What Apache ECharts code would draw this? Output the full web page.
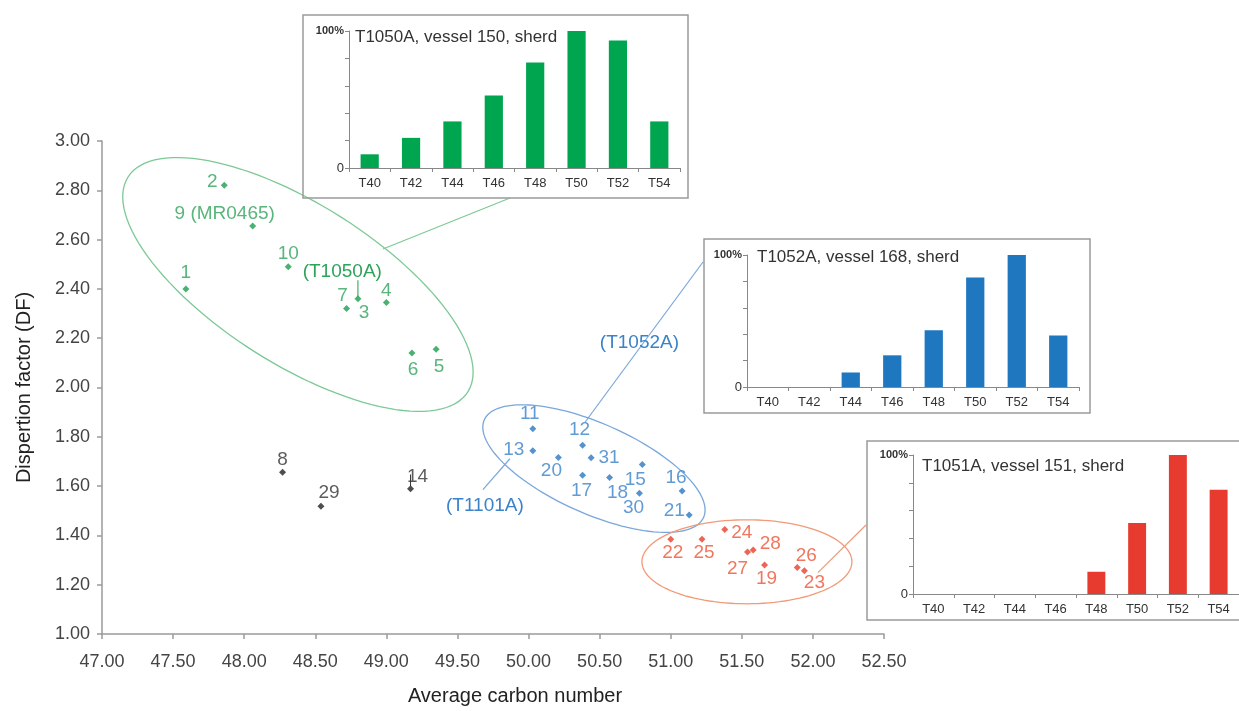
<!DOCTYPE html>
<html><head><meta charset="utf-8">
<script src="https://cdn.jsdelivr.net/npm/echarts@6/dist/echarts.min.js"></script>
<style>html,body{margin:0;padding:0;background:#fff}#c{width:1239px;height:711px}</style>
</head><body><div id="c"></div>
<script>
// ---- main scatter data ----
const greenNames = ['1','2','3','4','5','6','7','9 (MR0465)','10'];
const greenX = [47.59,47.86,48.80,49.00,49.35,49.18,48.72,48.06,48.31];
const greenY = [2.40,2.82,2.36,2.345,2.155,2.14,2.32,2.655,2.49];

const blueNames = ['11','12','13','20','31','17','18','15','30','16','21'];
const blueX = [50.03,50.38,50.03,50.21,50.44,50.38,50.57,50.80,50.78,51.08,51.13];
const blueY = [1.833,1.766,1.743,1.716,1.715,1.644,1.635,1.688,1.571,1.58,1.483];

const redNames = ['22','25','24','28','27','19','26','23'];
const redX = [51.00,51.22,51.38,51.58,51.54,51.66,51.89,51.94];
const redY = [1.384,1.384,1.424,1.341,1.333,1.28,1.27,1.257];

const blackNames = ['8','29','14'];
const blackX = [48.27,48.54,49.17];
const blackY = [1.656,1.518,1.589];

// ---- inset bar data (% of max) ----
const insetCats = ['T40','T42','T44','T46','T48','T50','T52','T54'];
const insetGreen = [10,22,34,53,77,100,93,34];
const insetBlue = [0,0,11,24,43,83,100,39];
const insetRed = [0,0,0,0,16,51,100,75];
const insetTitles = ['T1050A, vessel 150, sherd','T1052A, vessel 168, sherd','T1051A, vessel 151, sherd'];

// ---- label placement (pixel offsets from point) ----
const greenOff = [[0,-16],[-12,-4],[6,14],[0,-12],[3,17],[1,17],[-4,-13],[-28,-12],[0,-13]];
const blueOff = [[-3,-15],[-3,-15],[-19,-1],[-7,13],[18,0],[-1,16],[8,15],[-7,15],[-6,15],[-6,-13],[-15,-4]];
const redOff = [[2,13],[2,13],[17,3],[17,-6],[-10,17],[2,14],[9,-12],[10,12]];
const blackOff = [[0,-13],[8,-14],[7,-12]];

const FONT = 'Liberation Sans, Arial, sans-serif';
const C = {
  green:'#1e9e4f', greenT:'#2ea35a', greenE:'#7cc995',
  blue:'#2a78c2', blueT:'#3a82c9', blueE:'#79a7db',
  red:'#e8402a', redT:'#ec5436', redE:'#f29a78',
  black:'#222', blackT:'#333'
};

function pts(names, xs, ys, offs){
  return names.map((n,i)=>({name:n, value:[xs[i],ys[i]], label:{offset:offs[i]}}));
}
function scat(names, xs, ys, offs, col, tcol){
  return {type:'scatter', xAxisIndex:0, yAxisIndex:0, symbol:'diamond', symbolSize:7,
    itemStyle:{color:col}, z:5,
    label:{show:true, position:'inside', formatter:'{b}', color:tcol, fontSize:19, fontFamily:FONT, align:'center', verticalAlign:'middle'},
    data:pts(names,xs,ys,offs)};
}

const insetGrids = [
  {left:349, top:31, width:331, height:137},
  {left:747, top:255, width:332, height:132},
  {left:913, top:455, width:330, height:139}
];
const insetColors = ['#00a550','#1f77c0','#e63b2e'];
const insetData = [insetGreen, insetBlue, insetRed];

const grids = [{left:102, top:141, width:782, height:498}].concat(insetGrids);
const xAxes = [{
  type:'value', gridIndex:0, min:47, max:52.5, interval:0.5,
  axisLine:{lineStyle:{color:'#9a9a9a', width:1.5}},
  axisTick:{show:true, length:5, lineStyle:{color:'#9a9a9a', width:1.5}},
  axisLabel:{formatter:v=>v.toFixed(2), color:'#444', fontSize:18, fontFamily:FONT, margin:19},
  splitLine:{show:false},
  name:'Average carbon number', nameLocation:'middle', nameGap:52,
  nameTextStyle:{color:'#222', fontSize:20, fontFamily:FONT, padding:[0,0,0,44]}
}];
const yAxes = [{
  type:'value', gridIndex:0, min:1, max:3, interval:0.2,
  axisLine:{show:true, lineStyle:{color:'#9a9a9a', width:1.5}},
  axisTick:{show:true, length:5, lineStyle:{color:'#9a9a9a', width:1.5}},
  axisLabel:{formatter:v=>v.toFixed(2), color:'#444', fontSize:18, fontFamily:FONT, margin:12},
  splitLine:{show:false},
  name:'Dispertion factor (DF)', nameLocation:'middle', nameGap:68,
  nameTextStyle:{color:'#222', fontSize:20, fontFamily:FONT}
}];
const series = [
  scat(greenNames, greenX, greenY, greenOff, C.green, C.greenT),
  scat(blueNames, blueX, blueY, blueOff, C.blue, C.blueT),
  scat(redNames, redX, redY, redOff, C.red, C.redT),
  scat(blackNames, blackX, blackY, blackOff, C.black, C.blackT)
];
insetGrids.forEach((g,k)=>{
  const gi = k+1;
  xAxes.push({type:'category', gridIndex:gi, data:insetCats,
    axisLine:{lineStyle:{color:'#888', width:1}},
    axisTick:{show:true, length:4, interval:0, lineStyle:{color:'#888'}},
    axisLabel:{interval:0, color:'#333', fontSize:13, fontFamily:FONT, margin:9}});
  yAxes.push({type:'value', gridIndex:gi, min:0, max:100, interval:20,
    axisLine:{show:true, lineStyle:{color:'#888', width:1}},
    axisTick:{show:true, length:4, lineStyle:{color:'#888'}},
    splitLine:{show:false},
    axisLabel:{margin:5, formatter:v=> v===100?'{a|100%}':(v===0?'{b|0}':''),
      rich:{a:{fontSize:11, fontWeight:'bold', color:'#333', fontFamily:FONT}, b:{fontSize:13, color:'#333', fontFamily:FONT}}}});
  series.push({type:'bar', xAxisIndex:gi, yAxisIndex:gi, data:insetData[k], barWidth:'44%',
    itemStyle:{color:insetColors[k]}, silent:true});
});

const chart = echarts.init(document.getElementById('c'));
chart.setOption({animation:false, backgroundColor:'#fff', grid:grids, xAxis:xAxes, yAxis:yAxes, series:series});

// ---- annotations (ellipses, connectors, group labels, inset frames) ----
const P = (x,y)=>chart.convertToPixel({xAxisIndex:0, yAxisIndex:0},[x,y]);
function ellipse(cx,cy,a,b,deg,col){
  const c = P(cx,cy), th = deg*Math.PI/180, pts=[];
  for(let i=0;i<=120;i++){const t=i/120*2*Math.PI;
    const ex=a*Math.cos(t), ey=b*Math.sin(t);
    pts.push([c[0]+ex*Math.cos(th)-ey*Math.sin(th), c[1]+ex*Math.sin(th)+ey*Math.cos(th)]);}
  return {type:'polyline', shape:{points:pts}, style:{stroke:col, lineWidth:1.3, fill:null}, z:1, silent:true};
}
function line(p1,p2,col,w){
  return {type:'line', shape:{x1:p1[0],y1:p1[1],x2:p2[0],y2:p2[1]}, style:{stroke:col, lineWidth:w||1.2}, z:1, silent:true};
}
function txt(p,s,col){
  return {type:'text', x:p[0], y:p[1], style:{text:s, fill:col, font:'19px '+FONT, textAlign:'center', textVerticalAlign:'middle'}, z:6, silent:true};
}
const boxes = [[303,15,385,183],[704,239,386,174],[867,441,390,179]];
const titlePos = [[355,37],[757,257],[922,466]];
const g = [
  ellipse(48.378,2.418,201,80,32.3,C.greenE),
  ellipse(50.46,1.671,120,45,24,C.blueE),
  ellipse(51.536,1.293,105,42,0,C.redE),
  line(P(48.976,2.562),[510,198],C.greenE),
  line(P(50.397,1.859),[703,262],C.blueE),
  line(P(49.679,1.586),P(49.869,1.711),C.blueE),
  line(P(52.035,1.249),[866,525],C.redE),
  line(P(48.80,2.435),P(48.80,2.368),C.green,1),
  line(P(49.17,1.647),P(49.17,1.600),'#333',1),
  txt(P(48.69,2.47),'(T1050A)',C.greenT),
  txt(P(49.693,1.522),'(T1101A)',C.blueT),
  txt(P(50.78,2.181),'(T1052A)',C.blueT)
];
boxes.forEach((b,i)=>{
  g.push({type:'rect', shape:{x:b[0],y:b[1],width:b[2],height:b[3]}, style:{stroke:'#9a9a9a', lineWidth:1.5, fill:null}, z:3, silent:true});
  g.push({type:'text', x:titlePos[i][0], y:titlePos[i][1], style:{text:insetTitles[i], fill:'#333', font:'17px '+FONT, textVerticalAlign:'middle'}, z:6, silent:true});
});
chart.setOption({graphic:g});
</script></body></html>
